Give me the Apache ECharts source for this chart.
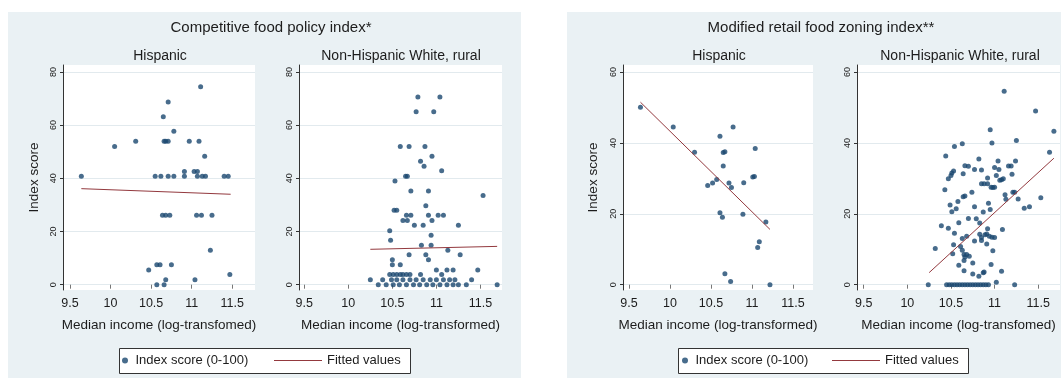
<!DOCTYPE html>
<html><head><meta charset="utf-8">
<script src="https://cdn.jsdelivr.net/npm/echarts@6/dist/echarts.min.js"></script>
<style>html,body{margin:0;padding:0;background:#fff}#c{width:1064px;height:378px}</style>
</head><body><div id="c"></div>
<script>
// ---- data ----
const xTicks = [9.5, 10, 10.5, 11, 11.5];
const yTicksComp = [0, 20, 40, 60, 80];
const yTicksZone = [0, 20, 40, 60];

const panelTitles = ['Competitive food policy index*', 'Modified retail food zoning index**'];
const groupTitles = ['Hispanic', 'Non-Hispanic White, rural'];
const xTitles = ['Median income (log-transfomed)', 'Median income (log-transformed)', 'Median income (log-transformed)', 'Median income (log-transfomed)'];
const yTitle = 'Index score';
const seriesNames = ['Index score (0-100)', 'Fitted values'];

// Competitive food policy index, Hispanic
const compHispanic = [[9.64,40.8],[10.05,52.0],[10.31,53.9],[10.65,63.1],[10.71,68.7],[10.78,57.7],[10.66,53.9],[10.68,53.9],[10.71,53.9],[10.97,53.9],[11.09,53.9],[11.11,74.4],[11.16,48.3],[10.55,40.8],[10.62,40.8],[10.71,40.8],[10.78,40.8],[10.91,42.6],[10.91,40.8],[11.03,42.6],[11.07,42.6],[11.07,40.8],[11.13,40.8],[11.17,40.8],[11.40,40.8],[11.45,40.8],[10.64,26.1],[10.68,26.1],[10.73,26.1],[11.06,26.1],[11.12,26.1],[11.25,26.1],[11.23,12.9],[10.57,7.5],[10.61,7.5],[10.75,7.5],[10.47,5.5],[10.68,1.9],[10.57,0],[10.66,0],[11.04,1.9],[11.47,3.8]];
const compHispanicFit = [[9.64,36.1],[11.48,34.0]];

// Competitive food policy index, Non-Hispanic White rural
const compNHW = [[10.79,70.6],[11.04,70.6],[10.77,65.0],[10.97,65.0],[10.59,52.0],[10.69,52.0],[10.87,52.0],[10.95,48.3],[10.82,46.4],[10.86,44.5],[11.06,42.8],[10.65,40.8],[10.67,40.8],[10.53,39.0],[10.71,35.2],[10.91,35.2],[11.53,33.5],[10.88,29.7],[10.52,28.0],[10.55,28.0],[10.66,26.1],[10.71,26.1],[10.91,26.1],[11.02,26.1],[11.08,26.1],[10.62,24.1],[10.67,24.1],[10.95,24.1],[10.75,22.3],[10.85,22.3],[11.25,22.3],[10.47,20.3],[10.48,16.7],[10.94,18.6],[10.83,14.8],[10.94,14.8],[11.13,12.9],[10.69,11.3],[10.88,11.3],[11.27,11.3],[10.91,9.4],[10.50,9.4],[10.50,7.5],[10.59,7.5],[11.47,5.5],[11.00,5.5],[11.12,5.5],[11.19,5.5],[11.06,3.8],
 [10.47,3.8],[10.51,3.8],[10.55,3.8],[10.59,3.8],[10.62,3.8],[10.66,3.8],[10.70,3.8],[10.82,3.8],
 [10.25,1.9],[10.39,1.9],[10.49,1.9],[10.55,1.9],[10.62,1.9],[10.70,1.9],[10.77,1.9],[10.85,1.9],[10.93,1.9],[11.00,1.9],[11.08,1.9],[11.15,1.9],[11.21,1.9],[11.40,1.9],
 [10.34,0],[10.43,0],[10.51,0],[10.58,0],[10.66,0],[10.74,0],[10.81,0],[10.89,0],[10.96,0],[11.04,0],[11.12,0],[11.19,0],[11.25,0],[11.34,0],[11.69,0]];
const compNHWFit = [[10.25,13.3],[11.69,14.4]];

// Modified retail food zoning index, Hispanic
const zoneHispanic = [[9.64,50.1],[10.04,44.5],[10.30,37.4],[10.61,41.9],[10.77,44.5],[10.65,37.3],[10.67,37.5],[11.04,38.4],[10.65,33.5],[10.57,29.7],[10.52,28.7],[10.46,28.0],[10.72,28.7],[10.75,27.4],[10.90,28.8],[11.01,30.4],[11.03,30.5],[10.61,20.3],[10.64,19.0],[10.89,19.9],[11.17,17.7],[11.09,12.1],[11.07,10.5],[10.67,3.1],[10.74,0.9],[11.22,0]];
const zoneHispanicFit = [[9.64,51.5],[11.22,15.6]];

// Modified retail food zoning index, Non-Hispanic White rural
const zoneNHW = [[11.11,54.6],[11.47,49.0],[11.68,43.3],[10.95,43.7],[10.54,39.0],[10.63,39.8],[10.97,40.0],[11.25,40.7],[11.63,37.4],[10.44,36.3],[10.82,35.5],[11.04,34.9],[11.24,34.9],[10.66,33.6],[10.70,33.4],[10.77,32.5],[10.85,32.4],[11.00,33.1],[11.05,32.5],[11.16,33.5],[11.19,33.5],[10.53,32.1],[10.51,31.5],[10.50,30.8],[10.47,29.9],[10.64,31.3],[11.20,31.2],[10.92,30.1],[11.02,30.8],[10.85,28.5],[10.88,28.5],[10.92,28.5],[10.96,27.5],[10.98,27.4],[11.00,27.5],[11.06,29.5],[11.08,29.6],[11.10,29.9],[10.43,26.8],[10.66,25.0],[10.64,24.8],[10.74,26.1],[11.12,25.4],[11.13,24.1],[11.21,26.1],[11.23,26.1],[11.27,24.2],[11.53,24.5],[10.58,23.5],[10.49,22.5],[10.56,21.4],[10.51,20.6],[10.77,22.0],[10.93,23.0],[10.87,20.5],[10.95,21.2],[11.34,21.6],[11.40,22.0],[10.39,16.6],[10.47,15.9],[10.59,17.5],[10.70,18.7],[10.79,18.6],[10.83,17.4],[10.92,15.8],[11.09,15.6],[10.54,14.5],[10.63,13.0],[10.68,13.7],[10.77,12.3],[10.83,14.2],[10.85,13.3],[10.89,14.1],[10.91,14.3],[10.94,13.7],[10.97,13.4],[11.00,13.3],[10.85,12.5],[10.91,11.5],[10.32,10.2],[10.53,11.3],[10.61,10.8],[10.63,9.7],[10.65,8.5],[10.66,7.8],[10.68,8.5],[10.71,8.0],[10.52,8.7],[10.98,9.6],[10.65,6.8],[10.75,6.1],[10.59,5.5],[10.96,5.7],[10.65,3.9],[10.75,3.0],[10.82,2.4],[10.87,3.4],[10.88,3.6],[11.08,3.8],[10.24,0],
 [10.45,0],[10.48,0],[10.51,0],[10.54,0],[10.57,0],[10.60,0],[10.63,0],[10.66,0],[10.69,0],[10.72,0],[10.75,0],[10.78,0],[10.81,0],[10.84,0],[10.87,0],[10.90,0],[10.93,0],[11.02,0.7],[11.23,0]];
const zoneNHWFit = [[10.25,3.4],[11.68,35.7]];

// ---- layout / style ----
const FONT = '"Liberation Sans", Arial, Helvetica, sans-serif';
const TXT = '#1c1c1c';
const BG = '#eaf1f4';
const MARK = '#1a476f';
const FIT = '#93393e';

const grids = [
  {left: 63, top: 65, width: 192, height: 225},
  {left: 299, top: 65, width: 203, height: 225},
  {left: 623, top: 65, width: 190, height: 225},
  {left: 857, top: 65, width: 203, height: 225}
];
const xRange = [[9.414, 11.78], [9.44, 11.745], [9.427, 11.745], [9.423, 11.75]];
const yRange = [[-2, 82.6], [-2, 82.6], [-1.5, 62], [-1.5, 62]];
const yTickSets = [yTicksComp, yTicksComp, yTicksZone, yTicksZone];
const scatterData = [compHispanic, compNHW, zoneHispanic, zoneNHW];
const fitData = [compHispanicFit, compNHWFit, zoneHispanicFit, zoneNHWFit];
const yNameGap = [22, 0, 23, 0];

const xAxes = grids.map((g, i) => ({
  type: 'value', gridIndex: i, min: xRange[i][0], max: xRange[i][1],
  axisLine: {show: false},
  axisTick: {show: true, customValues: xTicks, length: 4, lineStyle: {color: '#777', width: 1}},
  axisLabel: {customValues: xTicks, fontSize: 12.5, color: TXT, margin: 7, fontFamily: FONT},
  splitLine: {show: false},
  name: xTitles[i], nameLocation: 'middle', nameGap: 28,
  nameTextStyle: {fontSize: 13.5, color: TXT, fontFamily: FONT}
}));
const yAxes = grids.map((g, i) => ({
  type: 'value', gridIndex: i, min: yRange[i][0], max: yRange[i][1],
  axisLine: {show: true, lineStyle: {color: '#333', width: 1}},
  axisTick: {show: true, customValues: yTickSets[i], length: 3, lineStyle: {color: '#333', width: 1}},
  axisLabel: {customValues: yTickSets[i], rotate: 90, fontSize: 9, color: TXT, margin: 5, fontFamily: FONT},
  splitLine: {show: true, lineStyle: {color: '#e2eaee', width: 1}},
  name: (i % 2 === 0) ? yTitle : '', nameLocation: 'middle', nameGap: yNameGap[i],
  nameTextStyle: {fontSize: 13.5, color: TXT, fontFamily: FONT}
}));

const series = [];
grids.forEach((g, i) => {
  series.push({
    type: 'scatter', name: seriesNames[0], xAxisIndex: i, yAxisIndex: i,
    data: scatterData[i], symbol: 'circle', symbolSize: 5,
    itemStyle: {color: MARK}, silent: true, z: 3
  });
  series.push({
    type: 'line', name: seriesNames[1], xAxisIndex: i, yAxisIndex: i,
    data: fitData[i], symbol: 'none', showSymbol: false,
    lineStyle: {color: FIT, width: 1}, itemStyle: {color: FIT}, silent: true, z: 4
  });
});

function txt(x, y, s, size) {
  return {type: 'text', x: x, y: y, silent: true,
    style: {text: s, align: 'center', verticalAlign: 'middle', textAlign: 'center', textVerticalAlign: 'middle',
      fontSize: size, fontFamily: FONT, fill: TXT}};
}

const graphics = [
  {type: 'rect', z: -10, silent: true, shape: {x: 8, y: 12, width: 513, height: 366}, style: {fill: BG}},
  {type: 'rect', z: -10, silent: true, shape: {x: 567, y: 12, width: 494, height: 366}, style: {fill: BG}},
  {type: 'rect', z: 1, silent: true, shape: {x: 119.5, y: 348.5, width: 291, height: 25}, style: {fill: '#fff', stroke: '#333', lineWidth: 1}},
  {type: 'rect', z: 1, silent: true, shape: {x: 678.5, y: 348.5, width: 290, height: 25}, style: {fill: '#fff', stroke: '#333', lineWidth: 1}},
  txt(271, 28, panelTitles[0], 15),
  txt(821, 28, panelTitles[1], 15),
  txt(160, 56, groupTitles[0], 14),
  txt(401, 56, groupTitles[1], 14),
  txt(719, 56, groupTitles[0], 14),
  txt(960, 56, groupTitles[1], 14)
];

const legText = {fontSize: 13, color: TXT, fontFamily: FONT};
const legends = [
  {left: 122, top: 354, padding: 0, itemWidth: 11, itemHeight: 6, selectedMode: false, textStyle: legText,
   data: [{name: seriesNames[0], icon: 'circle'}]},
  {left: 274, top: 354, padding: 0, itemWidth: 48, itemHeight: 1.2, selectedMode: false, textStyle: legText,
   data: [{name: seriesNames[1], icon: 'rect'}]},
  {left: 682, top: 354, padding: 0, itemWidth: 11, itemHeight: 6, selectedMode: false, textStyle: legText,
   data: [{name: seriesNames[0], icon: 'circle'}]},
  {left: 832, top: 354, padding: 0, itemWidth: 48, itemHeight: 1.2, selectedMode: false, textStyle: legText,
   data: [{name: seriesNames[1], icon: 'rect'}]}
];

const chart = echarts.init(document.getElementById('c'), null, {renderer: 'canvas'});
chart.setOption({
  backgroundColor: '#ffffff',
  animation: false,
  textStyle: {fontFamily: FONT},
  grid: grids.map(g => Object.assign({show: true, backgroundColor: '#ffffff', borderWidth: 0, containLabel: false}, g)),
  xAxis: xAxes,
  yAxis: yAxes,
  legend: legends,
  graphic: graphics,
  series: series
});
</script></body></html>
